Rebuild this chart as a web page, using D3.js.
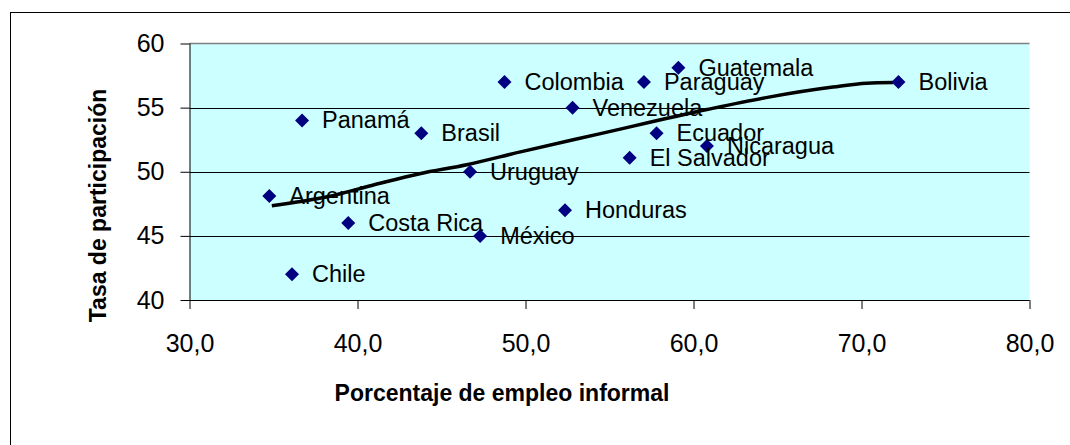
<!DOCTYPE html>
<html>
<head>
<meta charset="utf-8">
<script src="https://cdn.jsdelivr.net/npm/d3@7"></script>
<style>
  html, body { margin: 0; padding: 0; background: #fff; }
  svg { display: block; font-family: "Liberation Sans", Arial, sans-serif; }
</style>
</head>
<body>
<svg id="chart" width="1070" height="445"></svg>
<script>
// ---- data ----
const countries = ["Panamá","Brasil","Colombia","Venezuela","Uruguay","Guatemala","Paraguay","Bolivia","Ecuador","El Salvador","Nicaragua","Argentina","Costa Rica","Chile","México","Honduras"];
const informal   = [36.7, 43.8, 48.75, 52.8, 46.7, 59.1, 57.05, 72.2, 57.8, 56.2, 60.8, 34.75, 39.45, 36.1, 47.3, 52.35];
const participation = [54.0, 53.0, 57.0, 55.0, 50.0, 58.1, 57.0, 57.0, 53.0, 51.1, 52.0, 48.1, 46.0, 42.0, 45.0, 47.0];

const trendX = [34.9, 38.2, 40.9, 43.7, 46.5, 49.7, 54.4, 60.8, 64.4, 68.3, 70.3, 71.9];
const trendY = [47.35, 48.05, 48.95, 49.85, 50.55, 51.55, 52.95, 54.85, 55.8, 56.6, 56.9, 56.95];

const xTicks = [30, 40, 50, 60, 70, 80];
const yTicks = [40, 45, 50, 55, 60];
const xTitle = "Porcentaje de empleo informal";
const yTitle = "Tasa de participación";

// ---- layout ----
const svg = d3.select("#chart");
const L = 189.5, R = 1029.5, T = 43.5, B = 300;
const x = d3.scaleLinear().domain([30, 80]).range([L, R]);
const y = d3.scaleLinear().domain([40, 60]).range([B, T]);

// outer chart border (extends beyond viewport)
svg.append("rect").attr("x", 10.5).attr("y", 12.5).attr("width", 1200).attr("height", 600)
  .attr("fill", "#fff").attr("stroke", "#000").attr("stroke-width", 1);

// plot area
svg.append("rect").attr("x", L).attr("y", T).attr("width", R - L).attr("height", B - T)
  .attr("fill", "#CCFFFF");

// gridlines
svg.append("g").selectAll("line").data(yTicks.filter(d => d > 40 && d < 60)).join("line")
  .attr("x1", L).attr("x2", R)
  .attr("y1", d => Math.round(y(d)) + 0.5).attr("y2", d => Math.round(y(d)) + 0.5)
  .attr("stroke", "#000").attr("stroke-width", 1);
// top border gray
svg.append("line").attr("x1", L).attr("x2", R).attr("y1", T).attr("y2", T)
  .attr("stroke", "#808080").attr("stroke-width", 1.5);

// axes
const xAxis = d3.axisBottom(x).tickValues(xTicks).tickSize(9).tickPadding(25)
  .tickFormat(d => d3.format(".1f")(d).replace(".", ","));
const gx = svg.append("g").attr("transform", `translate(0,${B})`).call(xAxis);
gx.select(".domain").attr("stroke", "#000").attr("d", `M${L},0.5H${R}`);
gx.selectAll(".tick line").attr("stroke", "#000");
gx.selectAll(".tick text").attr("font-size", 25).attr("fill", "#000")
  .attr("font-family", "Liberation Sans, Arial, sans-serif");

const yAxis = d3.axisLeft(y).tickValues(yTicks).tickSize(9).tickPadding(16);
const gy = svg.append("g").attr("transform", `translate(${L},0)`).call(yAxis);
gy.select(".domain").attr("stroke", "#000").attr("d", `M0.5,${T}V${B}`);
gy.selectAll(".tick line").attr("stroke", "#000");
gy.selectAll(".tick text").attr("font-size", 25).attr("fill", "#000")
  .attr("font-family", "Liberation Sans, Arial, sans-serif");

// trend line
const trend = trendX.map((d, i) => [d, trendY[i]]);
svg.append("path").datum(trend)
  .attr("d", d3.line().x(d => x(d[0])).y(d => y(d[1])).curve(d3.curveMonotoneX))
  .attr("fill", "none").attr("stroke", "#000").attr("stroke-width", 3.5);

// points
const pts = countries.map((c, i) => ({ c, x: informal[i], y: participation[i] }));
svg.append("g").selectAll("path").data(pts).join("path")
  .attr("transform", d => `translate(${x(d.x)},${y(d.y)})`)
  .attr("d", "M0,-7L7,0L0,7L-7,0Z")
  .attr("fill", "#000080");

// labels
svg.append("g").selectAll("text").data(pts).join("text")
  .attr("x", d => x(d.x) + 20).attr("y", d => y(d.y) + 8)
  .attr("font-size", 23.5).attr("fill", "#000")
  .text(d => d.c);

// axis titles
svg.append("text").attr("x", (327 + 677) / 2).attr("y", 401)
  .attr("text-anchor", "middle").attr("font-size", 23).attr("font-weight", "bold")
  .text(xTitle);
svg.append("text").attr("transform", "translate(106,205.5) rotate(-90)")
  .attr("text-anchor", "middle").attr("font-size", 23).attr("font-weight", "bold")
  .text(yTitle);
</script>
</body>
</html>
